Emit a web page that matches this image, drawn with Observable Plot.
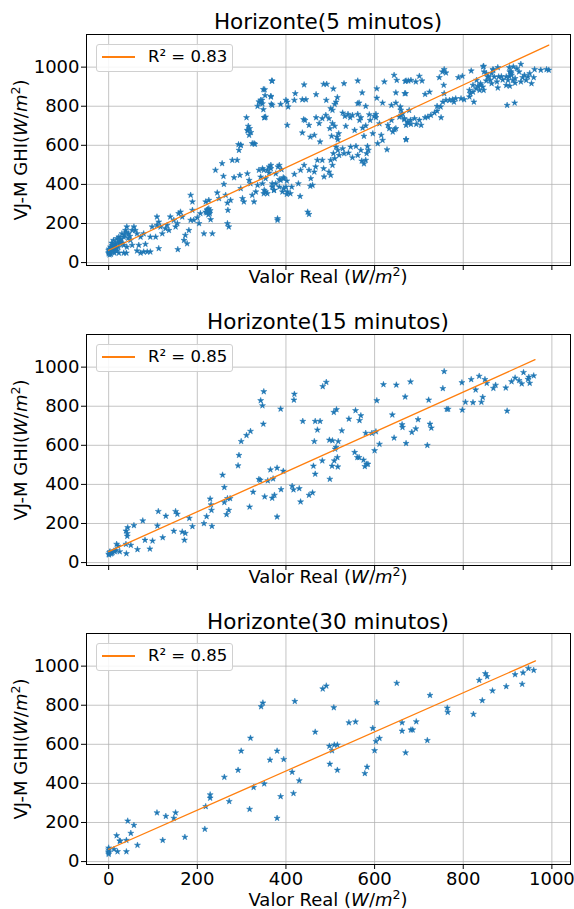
<!DOCTYPE html>
<html><head><meta charset="utf-8">
<script src="https://cdn.jsdelivr.net/npm/d3@7"></script>
<script src="https://cdn.jsdelivr.net/npm/@observablehq/plot@0.6"></script>
<style>
body{margin:0;background:#fff;font-family:"DejaVu Sans",sans-serif;color:#000;overflow:hidden;}
#root{position:relative;width:574px;height:909px;}
.panel{position:absolute;left:0;width:574px;}
.panel svg{display:block;}
.title{position:absolute;left:86px;width:484px;text-align:center;font-size:21.5px;line-height:1;white-space:nowrap;}
.xlabel{position:absolute;left:86px;width:484px;text-align:center;font-size:18px;line-height:1;white-space:nowrap;}
.ylabel{position:absolute;width:300px;height:18px;text-align:center;font-size:18px;line-height:1;white-space:nowrap;transform:rotate(-90deg);transform-origin:50% 50%;}
.legend{position:absolute;left:96px;width:135px;height:26px;border:1px solid #d0d0d0;border-radius:3px;background:rgba(255,255,255,0.85);}
.legline{position:absolute;left:102px;width:33px;background:#ff7f0e;}
.legtext{position:absolute;left:148px;font-size:16.5px;line-height:1;white-space:nowrap;}
i{font-style:oblique;}
sup{font-size:0.7em;vertical-align:0;position:relative;top:-0.55em;}
</style>
</head><body><div id="root"></div>
<script>
const titles = ["Horizonte(5 minutos)", "Horizonte(15 minutos)", "Horizonte(30 minutos)"];
const r2Labels = ["R² = 0.83", "R² = 0.85", "R² = 0.85"];
const ticks = [0, 200, 400, 600, 800, 1000];

// Horizonte 5 minutos: [real, VJ-M]
const points5 = [
[0,63],[0,46],[2,55],[4,80],[5,43],[8,89],[10,67],[11,114],[13,49],[15,97],[17,77],[19,123],[23,131],[25,106],[26,114],[30,148],[34,131],[34,89],[38,165],[41,183],[41,80],[45,148],[49,114],[53,165],[53,89],[57,183],[60,165],[64,148],[72,131],[79,148],
[1,70],[3,60],[6,75],[9,58],[12,85],[14,66],[7,100],[16,90],[20,104],[22,78],[28,120],[32,100],[36,140],[44,125],[48,135],[0,52],[2,40],[18,60],[26,96],[40,155],
[23,49],[34,49],[40,49],[64,60],[72,49],[79,55],[87,55],[94,55],[68,89],[83,94],[113,72],[156,67],
[94,131],[106,131],[98,183],[109,191],[113,208],[117,183],[109,234],[121,148],[128,174],[132,191],[139,234],[136,165],[147,217],[151,183],[155,200],[158,251],[162,259],[166,234],[170,114],[173,140],[177,97],[181,165],[185,217],[189,268],[185,345],[189,311],[192,217],[200,230],[204,200],[207,251],[215,148],[219,259],[222,268],[226,276],[228,251],[230,220],[234,148],[219,311],[226,319],[241,473],[245,357],[249,328],[256,507],[259,442],[260,401],[264,345],[268,305],[269,268],[271,183],[268,200],[275,319],[279,524],[283,435],[290,524],[294,575],[298,600],[296,447],[298,379],[302,328],[305,311],[313,455],[317,421],[320,404],[324,345],[328,311],[332,362],[336,396],[339,473],[343,438],[347,404],[351,370],[354,362],[358,473],[362,490],[366,498],[369,387],[373,370],[377,404],[381,217],[385,498],[388,421],[392,362],[396,430],[400,387],[403,362],
[224,262],[227,258],[221,255],[229,266],[225,245],[223,272],
[313,677],[317,652],[328,609],[293,604],[298,602],[311,742],[315,698],[314,674],[318,686],[321,666],[324,609],[330,606],[336,800],[339,823],[342,817],[346,831],[349,886],[351,742],[353,855],[368,930],[366,848],[367,811],
[352,885],[369,929],[347,813],[349,783],[343,831],[352,742],[354,745],[366,851],[369,805],[388,810],[400,831],[403,822],[405,797],[403,703],[421,865],[419,831],[437,834],[445,834],[441,910],[468,860],[485,913],[492,913],[507,889],[516,845],[513,822],[510,810],[491,831],[531,916],[501,788],[505,780],[562,930],[572,869],[562,814],[565,817],[580,800],[588,757],[603,759],[605,890],[605,842],[622,925],[618,817],[638,805],[644,959],[650,933],[648,869],[648,817],[669,928],[670,865],[676,930],
[440,732],[443,728],[437,664],[452,703],[455,643],[468,742],[464,652],[475,712],[477,618],[482,737],[490,754],[497,737],[499,686],[505,712],[503,647],[510,698],[515,643],[519,660],[517,629],[528,766],[533,749],[535,698],[540,759],[545,742],[550,754],[555,677],[562,759],[566,728],[569,742],[573,689],[580,700],[576,647],[590,728],[596,660],[599,749],[603,742],
[513,592],[507,558],[510,532],[501,524],[505,498],[497,464],[501,447],[517,575],[520,549],[528,583],[531,558],[541,561],[546,592],[550,537],[558,595],[562,549],[569,575],[571,520],[576,506],[582,558],[584,595],[580,524],[586,575],
[482,524],[485,481],[486,439],[471,524],[467,490],[464,464],[452,473],[456,430],[460,396],[455,391],[441,498],[433,473],[419,452],[428,404],[432,339],[413,387],[402,418],[394,435],[382,490],[390,476],[377,455],[366,481],[362,459],[350,473],[347,481],[354,430],[369,404],[373,370],[385,387],[395,379],[402,350],[410,353],[350,353],[358,353],[385,425],[449,259],[452,247],[381,225],
[611,711],[615,652],[618,626],[607,609],[628,578],[633,686],[641,669],[645,681],[648,686],[630,703],[638,728],[656,745],[660,754],[663,762],[667,737],[675,720],[671,629],[678,779],[658,797],
[671,930],[682,933],[693,925],[701,954],[707,930],[668,865],[714,861],[724,873],[746,947],[753,976],[757,988],[761,971],[756,908],[757,865],[789,947],[798,954],[818,981],[846,1005],[852,968],[867,988],[878,998],[904,998],[908,976],
[659,780],[667,732],[675,715],[681,729],[690,737],[671,703],[682,708],[694,708],[701,729],[705,703],[714,742],[720,745],[727,754],[735,766],[741,776],[750,742],[741,800],[749,797],[754,822],[761,831],[769,831],[776,834],[779,822],[783,839],[795,839],[802,834],[814,848],[816,865],[822,873],[824,822],[829,890],[833,902],[837,882],[839,916],[844,899],[846,882],[852,930],[857,950],[861,933],[864,916],[870,950],[878,894],[886,952],[889,935],[897,907],[899,805],[904,952],[908,968],[912,933],[916,817],[917,919],[671,630],
[897,951],[901,933],[905,976],[909,959],[913,1002],[917,942],[921,993],[926,976],[930,925],[934,947],[938,959],[942,933],[946,951],[950,968],[954,916],[959,947],[961,988],[975,985],[988,988],[993,985],[905,903],[930,1015],
[814,882],[822,908],[830,933],[839,908],[847,976],[855,951],[864,968],[868,985],[876,925],[880,951],[845,1002]
];
const fit5 = [[0,63],[993,1113]];

// Horizonte 15 minutos
const points15 = [
[0,43],[2,51],[3,56],[7,48],[12,60],[16,63],[18,94],[21,85],[25,56],[5,45],[9,52],[14,57],[1,40],[39,94],[40,46],[39,162],[43,179],[42,149],[42,135],[50,89],[57,190],[65,67],[77,214],[82,115],[93,70],[99,111],[110,188],[112,262],[122,128],[129,238],[147,161],[151,262],[155,248],[166,157],[171,115],[173,150],[182,227],[189,185],[215,200],[221,236],[229,326],[231,296],[232,268],[233,186],[257,448],[261,385],[261,308],[266,246],[268,328],[271,268],[274,328],[292,496],[294,549],[299,620],[311,651],[320,672],[318,285],[326,361],[339,426],[342,422],[343,829],[347,803],[349,709],[350,875],[352,337],[359,419],[365,475],[369,330],[371,429],[374,345],[380,484],[380,234],[388,786],[389,374],[394,468],[414,391],[417,373],[418,832],[419,862],[430,379],[433,311],[438,723],[452,345],[460,357],[462,494],[464,620],[466,453],[466,723],[471,679],[477,723],[482,521],[483,901],[491,923],[498,627],[499,427],[504,494],[505,624],[508,769],[509,521],[511,581],[513,590],[514,783],[516,538],[517,490],[518,620],[526,675],[542,735],[555,564],[557,778],[561,538],[565,538],[566,727],[569,752],[575,525],[578,492],[580,662],[582,504],[585,504],[594,662],[600,573],[603,670],[605,829],[611,606],[620,911],[640,756],[644,638],[649,909],[662,706],[663,692],[669,848],[671,610],[681,925],[684,667],[693,685],[698,732],[719,600],[722,832],[725,709],[728,689],[754,891],[757,978],[763,785],[766,785],[797,921],[798,781],[805,821],[818,937],[822,819],[828,884],[836,954],[841,821],[844,846],[849,937],[853,918],[868,892],[873,908],[896,894],[899,776],[909,926],[917,945],[926,932],[932,915],[936,973],[946,938],[948,949],[950,918],[959,956]
];
const fit15 = [[0,56],[962,1038]];

// Horizonte 30 minutos
const points30 = [
[0,70],[0,60],[0,45],[0,38],[0,50],[12,63],[20,51],[18,133],[25,106],[26,104],[40,109],[40,51],[43,208],[50,145],[57,186],[65,84],[109,250],[122,109],[129,232],[147,222],[151,250],[172,125],[217,166],[219,282],[229,325],[229,342],[261,432],[272,308],[292,468],[299,566],[320,632],[318,268],[327,380],[344,793],[348,812],[351,398],[364,520],[380,566],[380,222],[388,333],[395,523],[414,458],[417,349],[420,820],[430,414],[466,663],[483,884],[491,899],[498,591],[499,499],[504,568],[508,788],[509,597],[516,597],[516,468],[542,711],[557,715],[578,451],[583,484],[596,682],[600,568],[603,615],[605,814],[611,631],[650,913],[662,711],[662,668],[670,557],[682,674],[686,674],[694,716],[719,620],[725,851],[764,786],[765,764],[823,754],[836,928],[843,824],[850,962],[854,947],[866,874],[897,896],[917,957],[933,908],[935,966],[947,988],[959,979]
];
const fit30 = [[0,63],[963,1027]];

const xDomain = [-50, 1042];
const yDomain = [-15, 1167];

const panels = [
  {top: 0,   h: 300, mt: 34, mb: 35, pts: points5,  fit: fit5,  title: titles[0], r2: r2Labels[0], showX: false, lw: 1.2},
  {top: 300, h: 300, mt: 34, mb: 35, pts: points15, fit: fit15, title: titles[1], r2: r2Labels[1], showX: false, lw: 2},
  {top: 600, h: 309, mt: 33, mb: 45, pts: points30, fit: fit30, title: titles[2], r2: r2Labels[2], showX: true,  lw: 1.2}
];

const root = document.getElementById("root");
for (const p of panels) {
  const block = document.createElement("div");
  block.className = "panel";
  block.style.top = p.top + "px";
  block.style.height = p.h + "px";
  const svg = Plot.plot({
    width: 574, height: p.h,
    marginTop: p.mt, marginBottom: p.mb, marginLeft: 86, marginRight: 4,
    style: {fontFamily: "'DejaVu Sans', sans-serif", fontSize: "18px", color: "#000", background: "transparent", overflow: "visible"},
    x: {domain: xDomain, label: null},
    y: {domain: yDomain, label: null},
    marks: [
      Plot.gridX(ticks, {stroke: "#b0b0b0", strokeOpacity: 0.75, strokeWidth: 1}),
      Plot.gridY(ticks, {stroke: "#b0b0b0", strokeOpacity: 0.75, strokeWidth: 1}),
      Plot.dot(p.pts, {x: d => d[0], y: d => d[1], symbol: "star", r: 1.9, fill: "#1f77b4", stroke: "#1f77b4", strokeWidth: 0.5}),
      Plot.line(p.fit, {x: d => d[0], y: d => d[1], stroke: "#ff7f0e", strokeWidth: 1.3}),
      Plot.axisX(ticks, {tickSize: 5, tickPadding: 3, tickFormat: p.showX ? (d => String(d)) : (() => ""), label: null}),
      Plot.axisY(ticks, {tickSize: 5, tickPadding: 2, tickFormat: d => String(d), label: null}),
      Plot.frame({stroke: "#000", strokeWidth: 1})
    ]
  });
  block.appendChild(svg);

  const frameBottom = p.h - p.mb;
  const t = document.createElement("div");
  t.className = "title"; t.style.top = "11px"; t.textContent = p.title;
  block.appendChild(t);

  const xl = document.createElement("div");
  xl.className = "xlabel";
  xl.style.top = (p.showX ? frameBottom + 27 : frameBottom + 3) + "px";
  xl.innerHTML = "Valor Real (<i>W</i>/<i>m</i><sup>2</sup>)";
  block.appendChild(xl);

  const yl = document.createElement("div");
  yl.className = "ylabel";
  const cy = (p.mt + frameBottom) / 2;
  yl.style.left = (21 - 150) + "px";
  yl.style.top = (cy - 9) + "px";
  yl.innerHTML = "VJ-M GHI(<i>W</i>/<i>m</i><sup>2</sup>)";
  block.appendChild(yl);

  const lg = document.createElement("div");
  lg.className = "legend"; lg.style.top = (p.mt + 10) + "px";
  block.appendChild(lg);
  const ll = document.createElement("div");
  ll.className = "legline";
  ll.style.height = p.lw + "px";
  ll.style.top = (p.mt + 23 - p.lw / 2) + "px";
  block.appendChild(ll);
  const lt = document.createElement("div");
  lt.className = "legtext"; lt.style.top = (p.mt + 15) + "px";
  lt.textContent = p.r2;
  block.appendChild(lt);

  root.appendChild(block);
}
</script>
</body></html>
